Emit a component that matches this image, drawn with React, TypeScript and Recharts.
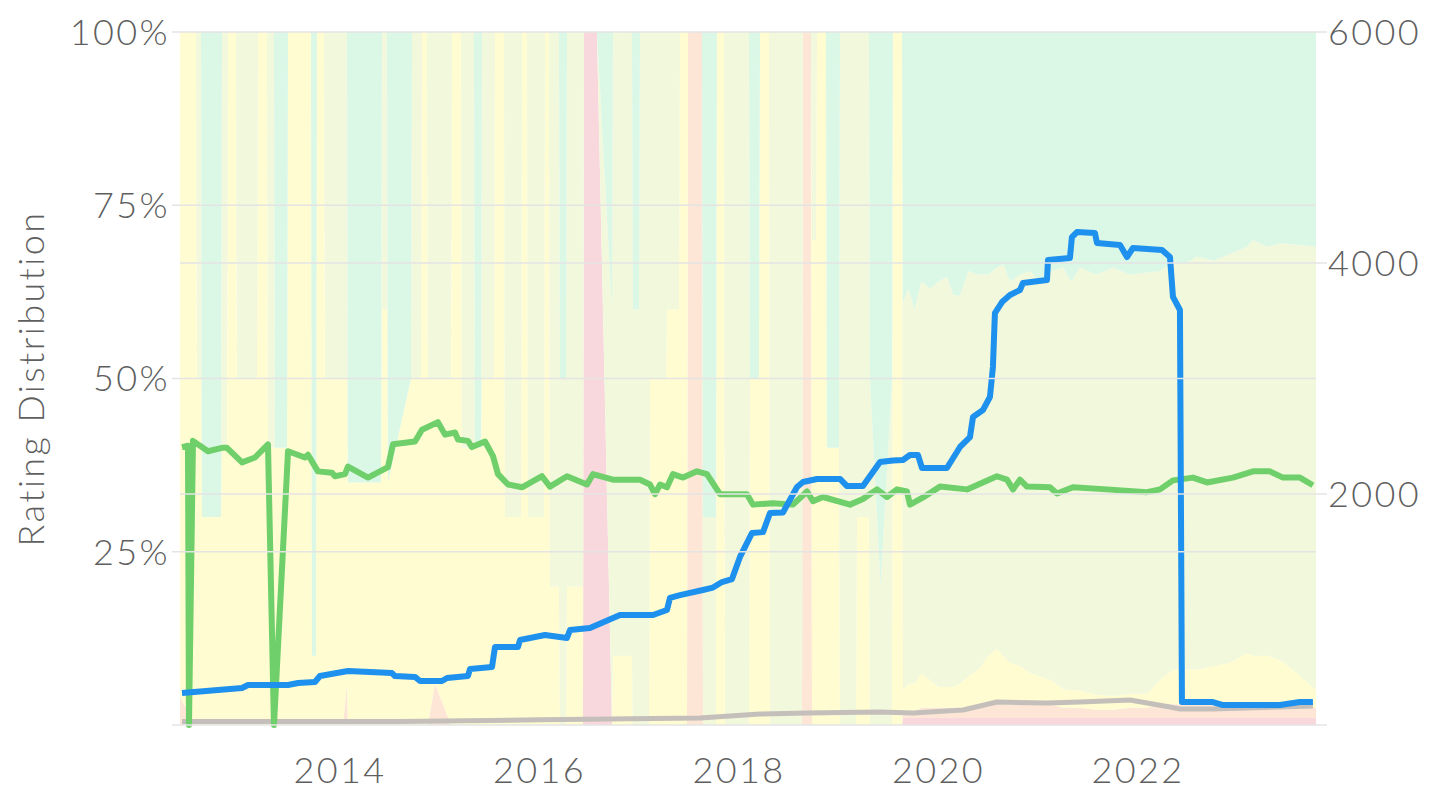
import React from 'react';
import { ComposedChart, Area, Line, XAxis, YAxis, ReferenceLine, Label } from 'recharts';

const FONT = 'Lato, "Noto Sans", sans-serif';
const TEXT = '#5f5f5f';
const GRID = '#e4e4e4';

const yearTicks = [2014, 2016, 2018, 2020, 2022];
const pctTicks = [0, 25, 50, 75, 100];
const countTicks = [0, 2000, 4000, 6000];
const ratingKeys = ['r1', 'r2', 'r3', 'r4', 'r5'];
const ratingColors = ['#f8d8dc', '#fde6d5', '#fffcd1', '#f1f8db', '#dbf7e6'];

// [year, 1★ %, 2★ %, 3★ %, 4★ %, 5★ %]
const distributionRows = [
  [2012.396, 0, 4, 96, 0, 0],
  [2012.556, 0, 0, 100, 0, 0],
  [2012.566, 0, 0, 50, 50, 0],
  [2012.607, 0, 0, 50, 50, 0],
  [2012.617, 0, 0, 30, 0, 70],
  [2012.807, 0, 0, 30, 0, 70],
  [2012.817, 0, 0, 40, 60, 0],
  [2012.867, 0, 0, 40, 60, 0],
  [2012.877, 0, 0, 100, 0, 0],
  [2012.957, 0, 0, 100, 0, 0],
  [2012.967, 0, 0, 50, 50, 0],
  [2013.168, 0, 0, 50, 50, 0],
  [2013.178, 0, 0, 100, 0, 0],
  [2013.268, 0, 0, 100, 0, 0],
  [2013.278, 0, 0, 40, 60, 0],
  [2013.338, 0, 0, 40, 60, 0],
  [2013.348, 0, 0, 40, 0, 60],
  [2013.469, 0, 0, 40, 0, 60],
  [2013.479, 0, 0, 100, 0, 0],
  [2013.709, 0, 0, 100, 0, 0],
  [2013.719, 0, 0, 10, 0, 90],
  [2013.759, 0, 0, 10, 0, 90],
  [2013.769, 0, 0, 100, 0, 0],
  [2013.840, 0, 0, 100, 0, 0],
  [2013.850, 0, 0, 50, 50, 0],
  [2014.030, 0, 0, 50, 50, 0],
  [2014.070, 0, 6, 44, 50, 0],
  [2014.080, 0, 0, 35, 0, 65],
  [2014.411, 0, 0, 35, 0, 65],
  [2014.421, 0, 0, 60, 40, 0],
  [2014.471, 0, 0, 60, 40, 0],
  [2014.481, 0, 0, 35, 0, 65],
  [2014.712, 0, 0, 50, 0, 50],
  [2014.722, 0, 0, 50, 50, 0],
  [2014.812, 0, 0, 50, 50, 0],
  [2014.822, 0, 0, 100, 0, 0],
  [2014.872, 0, 0, 100, 0, 0],
  [2014.882, 0, 0, 50, 50, 0],
  [2014.952, 0, 6, 44, 50, 0],
  [2015.113, 0, 0, 50, 50, 0],
  [2015.123, 0, 0, 100, 0, 0],
  [2015.213, 0, 0, 100, 0, 0],
  [2015.223, 0, 0, 40, 60, 0],
  [2015.343, 0, 0, 40, 60, 0],
  [2015.353, 0, 0, 40, 0, 60],
  [2015.414, 0, 0, 40, 0, 60],
  [2015.424, 0, 0, 50, 50, 0],
  [2015.544, 0, 0, 50, 50, 0],
  [2015.554, 0, 0, 100, 0, 0],
  [2015.644, 0, 0, 100, 0, 0],
  [2015.654, 0, 0, 30, 70, 0],
  [2015.815, 0, 0, 30, 70, 0],
  [2015.825, 0, 0, 100, 0, 0],
  [2015.875, 0, 0, 100, 0, 0],
  [2015.885, 0, 0, 30, 70, 0],
  [2016.045, 0, 0, 30, 70, 0],
  [2016.055, 0, 0, 100, 0, 0],
  [2016.095, 0, 0, 100, 0, 0],
  [2016.105, 0, 0, 20, 80, 0],
  [2016.195, 0, 0, 20, 80, 0],
  [2016.206, 0, 0, 0, 50, 50],
  [2016.266, 0, 0, 0, 50, 50],
  [2016.276, 0, 0, 20, 80, 0],
  [2016.436, 0, 0, 20, 80, 0],
  [2016.446, 100, 0, 0, 0, 0],
  [2016.576, 100, 0, 0, 0, 0],
  [2016.727, 0, 0, 0, 60, 40],
  [2016.737, 0, 0, 10, 90, 0],
  [2016.927, 0, 0, 10, 90, 0],
  [2016.937, 0, 0, 0, 60, 40],
  [2016.997, 0, 0, 0, 60, 40],
  [2017.008, 0, 0, 0, 100, 0],
  [2017.098, 0, 0, 0, 100, 0],
  [2017.108, 0, 0, 50, 50, 0],
  [2017.268, 0, 0, 50, 50, 0],
  [2017.278, 0, 0, 60, 40, 0],
  [2017.398, 0, 0, 60, 40, 0],
  [2017.409, 0, 0, 100, 0, 0],
  [2017.479, 0, 0, 100, 0, 0],
  [2017.489, 0, 100, 0, 0, 0],
  [2017.629, 0, 100, 0, 0, 0],
  [2017.639, 0, 0, 0, 30, 70],
  [2017.769, 0, 0, 0, 30, 70],
  [2017.779, 0, 0, 100, 0, 0],
  [2017.850, 0, 0, 100, 0, 0],
  [2017.860, 0, 0, 0, 100, 0],
  [2018.100, 0, 0, 0, 100, 0],
  [2018.110, 0, 0, 50, 0, 50],
  [2018.200, 0, 0, 50, 0, 50],
  [2018.211, 0, 0, 100, 0, 0],
  [2018.301, 0, 0, 100, 0, 0],
  [2018.311, 0, 0, 0, 100, 0],
  [2018.632, 0, 0, 0, 100, 0],
  [2018.642, 0, 100, 0, 0, 0],
  [2018.722, 0, 100, 0, 0, 0],
  [2018.732, 0, 0, 70, 30, 0],
  [2018.772, 0, 0, 70, 30, 0],
  [2018.782, 0, 0, 100, 0, 0],
  [2018.872, 0, 0, 100, 0, 0],
  [2018.882, 0, 0, 40, 0, 60],
  [2019.002, 0, 0, 40, 0, 60],
  [2019.013, 0, 0, 0, 100, 0],
  [2019.173, 0, 0, 0, 100, 0],
  [2019.183, 0, 0, 30, 70, 0],
  [2019.303, 0, 0, 30, 70, 0],
  [2019.313, 0, 0, 0, 50, 50],
  [2019.420, 0, 0, 0, 20, 80],
  [2019.534, 0, 0, 0, 50, 50],
  [2019.544, 0, 0, 100, 0, 0],
  [2019.634, 0, 0, 100, 0, 0],
  [2019.644, 1, 1, 3, 56, 39],
  [2019.700, 1, 1, 4, 57, 37],
  [2019.760, 1, 1, 4, 54, 40],
  [2019.830, 1, 1.5, 5, 56.5, 36],
  [2019.915, 1, 1.5, 4, 56.5, 37],
  [2020.000, 1, 1.5, 3, 58.5, 36],
  [2020.085, 1, 1.5, 3, 59.2, 35.3],
  [2020.150, 1, 1.5, 3, 56.5, 38],
  [2020.216, 1, 1.5, 3.5, 56, 38],
  [2020.300, 1, 1.5, 4.5, 58.5, 34.5],
  [2020.400, 1, 1.5, 5.5, 57, 35],
  [2020.500, 1, 2, 7, 55, 35],
  [2020.586, 1, 2, 8, 55, 34],
  [2020.650, 1, 2, 7, 56.5, 33.5],
  [2020.717, 1, 2, 6, 55, 36],
  [2020.817, 1, 2, 5.5, 56.5, 35],
  [2020.920, 1, 2, 4.5, 58, 34.5],
  [2021.018, 1, 2, 4, 57, 36],
  [2021.130, 1, 2, 3.5, 59, 34.5],
  [2021.248, 1, 1.5, 2.7, 60.8, 34],
  [2021.330, 1, 1.5, 2.5, 59, 36],
  [2021.418, 1, 1.5, 2.5, 61, 34],
  [2021.580, 1, 1.2, 2.2, 60.6, 35],
  [2021.749, 1, 1.2, 2, 61.8, 34],
  [2021.920, 1, 1.5, 2, 60.5, 35],
  [2022.090, 1, 1.5, 2, 60.8, 34.7],
  [2022.220, 1, 2, 3.5, 59, 34.5],
  [2022.351, 1, 2, 5, 59, 33],
  [2022.470, 1, 2, 5, 58.5, 33.5],
  [2022.591, 1, 2, 5, 59.6, 32.4],
  [2022.760, 1, 2, 5.5, 58.5, 33],
  [2022.922, 1, 2, 6, 59, 32],
  [2023.093, 1, 2, 7.4, 58.6, 31],
  [2023.153, 1, 2, 7, 60, 30],
  [2023.300, 1, 2, 7, 59, 31],
  [2023.423, 1, 2, 6.4, 60.1, 30.5],
  [2023.594, 1, 2, 4.5, 61.8, 30.7],
  [2023.785, 1, 1.5, 2.5, 64, 31],
];

const greenDates = [
  2012.416, 2012.476, 2012.486, 2012.526, 2012.677, 2012.817, 2012.867, 2013.018, 2013.148, 2013.278,
  2013.338, 2013.479, 2013.649, 2013.679, 2013.779, 2013.920, 2013.950, 2014.050, 2014.080, 2014.281,
  2014.481, 2014.531, 2014.752, 2014.822, 2014.982, 2015.053, 2015.153, 2015.183, 2015.283, 2015.323,
  2015.454, 2015.534, 2015.584, 2015.684, 2015.825, 2016.025, 2016.105, 2016.276, 2016.476, 2016.536,
  2016.737, 2017.008, 2017.108, 2017.158, 2017.208, 2017.278, 2017.338, 2017.439, 2017.579, 2017.679,
  2017.810, 2018.080, 2018.140, 2018.341, 2018.541, 2018.682, 2018.742, 2018.842, 2019.113, 2019.243,
  2019.383, 2019.484, 2019.584, 2019.684, 2019.714, 2019.865, 2020.015, 2020.286, 2020.586, 2020.687,
  2020.747, 2020.817, 2020.887, 2021.118, 2021.188, 2021.348, 2021.689, 2022.090, 2022.221, 2022.351,
  2022.551, 2022.692, 2022.952, 2023.153, 2023.323, 2023.454, 2023.624, 2023.754,
];
const greenPct = [
  40.1, 40.3, 0, 41.0, 39.5, 40.0, 40.0, 37.9, 38.6, 40.5,
  0, 39.5, 38.6, 39.0, 36.6, 36.4, 35.9, 36.2, 37.3, 35.7,
  37.2, 40.5, 40.9, 42.6, 43.7, 41.9, 42.2, 41.2, 41.0, 40.1,
  40.9, 38.8, 36.2, 34.7, 34.3, 35.9, 34.4, 35.9, 34.7, 36.2,
  35.4, 35.4, 34.7, 33.3, 34.7, 34.3, 36.2, 35.7, 36.6, 36.2,
  33.3, 33.3, 31.8, 32.0, 31.8, 33.7, 32.3, 32.9, 31.8, 32.6,
  34.0, 32.9, 34.0, 33.7, 31.8, 33.0, 34.4, 34.0, 35.9, 35.4,
  34.0, 35.4, 34.4, 34.3, 33.4, 34.3, 34.0, 33.6, 34.0, 35.3,
  35.7, 35.0, 35.7, 36.6, 36.6, 35.7, 35.7, 34.6,
];

const blueDates = [
  2012.416, 2013.018, 2013.078, 2013.479, 2013.579, 2013.749, 2013.799, 2014.080, 2014.521, 2014.551,
  2014.752, 2014.802, 2015.023, 2015.073, 2015.283, 2015.303, 2015.524, 2015.554, 2015.784, 2015.805,
  2016.055, 2016.276, 2016.306, 2016.506, 2016.807, 2017.138, 2017.278, 2017.308, 2017.409, 2017.639,
  2017.739, 2017.830, 2017.930, 2018.010, 2018.130, 2018.241, 2018.311, 2018.441, 2018.582, 2018.642,
  2018.782, 2019.013, 2019.083, 2019.243, 2019.414, 2019.544, 2019.644, 2019.714, 2019.794, 2019.835,
  2020.085, 2020.216, 2020.316, 2020.346, 2020.446, 2020.516, 2020.546, 2020.566, 2020.637, 2020.717,
  2020.817, 2020.847, 2021.088, 2021.098, 2021.318, 2021.338, 2021.388, 2021.569, 2021.589, 2021.820,
  2021.890, 2021.950, 2022.241, 2022.321, 2022.351, 2022.421, 2022.441, 2022.752, 2022.852, 2023.423,
  2023.624, 2023.754,
];
const blueCount = [
  277, 320, 346, 346, 364, 372, 424, 468, 450, 424,
  416, 381, 381, 407, 424, 485, 502, 675, 675, 736,
  779, 753, 822, 840, 952, 952, 996, 1100, 1125, 1169,
  1190, 1238, 1264, 1455, 1662, 1670, 1835, 1840, 2061, 2104,
  2130, 2130, 2069, 2069, 2277, 2290, 2294, 2338, 2338, 2225,
  2225, 2407, 2493, 2667, 2727, 2840, 3100, 3567, 3662, 3723,
  3766, 3827, 3853, 4026, 4043, 4225, 4268, 4260, 4173, 4156,
  4052, 4130, 4113, 4052, 3706, 3593, 199, 199, 173, 173,
  199, 199,
];

const grayDates = [
  2012.416, 2014.600, 2016.005, 2017.609, 2018.210, 2018.680, 2019.414, 2019.744, 2020.246, 2020.586,
  2021.088, 2021.418, 2021.920, 2022.321, 2022.421, 2022.752, 2023.093, 2023.754,
];
const grayCount = [
  30, 30, 45, 60, 95, 104, 113, 104, 130, 199,
  190, 199, 216, 156, 139, 139, 147, 164,
];

const bgData = distributionRows.map((row) => {
  const o: any = { t: row[0] };
  ratingKeys.forEach((k, i) => { o[k] = row[i + 1]; });
  return o;
});
const greenData = greenDates.map((t, i) => ({ t, v: greenPct[i] }));
const blueData = blueDates.map((t, i) => ({ t, v: blueCount[i] }));
const grayData = grayDates.map((t, i) => ({ t, v: grayCount[i] }));

const tickStyle = { fill: TEXT, fontSize: 36, fontFamily: FONT, fontWeight: 300, letterSpacing: 2.4 };

const YTitle = (props: any) => {
  const vb = props.viewBox || { x: 0, y: 32, width: 180, height: 693 };
  const cx = vb.x + 44;
  const cy = vb.y + vb.height / 2;
  return (
    <text x={cx} y={cy} transform={`rotate(-90 ${cx} ${cy})`} textAnchor="middle"
      fill={TEXT} fontSize={36} fontFamily={FONT} fontWeight={300} letterSpacing={2.4}>Rating Distribution</text>
  );
};

export default function App() {
  return (
    <div style={{ position: 'absolute', left: 0, top: 0, width: 1433, height: 791, background: '#fff' }}>
      <ComposedChart width={1433} height={791} data={bgData} margin={{ top: 32, right: 0, bottom: 0, left: 0 }}>
        <XAxis dataKey="t" type="number" domain={[2012.396, 2023.785]} allowDataOverflow ticks={yearTicks}
          interval={0} tickLine={false} axisLine={false} tickSize={0} tickMargin={32} height={66} tick={tickStyle} />
        <YAxis yAxisId="left" type="number" domain={[0, 100]} ticks={pctTicks} interval={0} width={180}
          tickFormatter={(v: number) => (v === 0 ? '' : `${v}%`)} axisLine={false}
          tickLine={{ stroke: GRID, strokeWidth: 1.5 }} tickSize={8} tickMargin={2} tick={tickStyle}>
          <Label content={<YTitle />} />
        </YAxis>
        <YAxis yAxisId="right" orientation="right" type="number" domain={[0, 6000]} ticks={countTicks} interval={0}
          width={117} tickFormatter={(v: number) => (v === 0 ? '' : `${v}`)} axisLine={false}
          tickLine={{ stroke: GRID, strokeWidth: 1.5 }} tickSize={11} tickMargin={1} tick={tickStyle} />
        {ratingKeys.map((k, i) => (
          <Area key={k} yAxisId="left" type="linear" dataKey={k} stackId="dist" stroke="none"
            fill={ratingColors[i]} fillOpacity={1} dot={false} activeDot={false} isAnimationActive={false} />
        ))}
        <Line yAxisId="right" data={grayData} dataKey="v" type="linear" stroke="#c4bfbb" strokeWidth={5}
          dot={false} activeDot={false} isAnimationActive={false} strokeLinejoin="round" />
        <Line yAxisId="left" data={greenData} dataKey="v" type="linear" stroke="#6fcf6b" strokeWidth={6}
          dot={false} activeDot={false} isAnimationActive={false} strokeLinejoin="round" />
        <Line yAxisId="right" data={blueData} dataKey="v" type="linear" stroke="#1e90ee" strokeWidth={6}
          dot={false} activeDot={false} isAnimationActive={false} strokeLinejoin="round" />
        {pctTicks.map((v) => (
          <ReferenceLine key={`p${v}`} yAxisId="left" y={v} stroke={GRID} strokeWidth={1.5} ifOverflow="visible" />
        ))}
        {[2000, 4000].map((v) => (
          <ReferenceLine key={`c${v}`} yAxisId="right" y={v} stroke={GRID} strokeWidth={1.5} ifOverflow="visible" />
        ))}
      </ComposedChart>
    </div>
  );
}
